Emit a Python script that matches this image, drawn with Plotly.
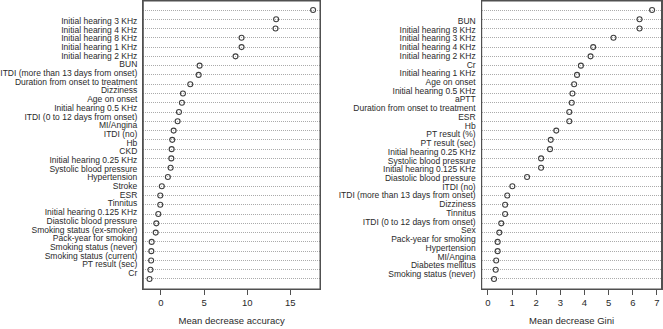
import plotly.graph_objects as go

acc_labels = [
    "Initial hearing 3 KHz", "Initial hearing 4 KHz", "Initial hearing 8 KHz",
    "Initial hearing 1 KHz", "Initial hearing 2 KHz", "BUN",
    "ITDI (more than 13 days from onset)", "Duration from onset to treatment",
    "Dizziness", "Age on onset", "Initial hearing 0.5 KHz",
    "ITDI (0 to 12 days from onset)", "MI/Angina", "ITDI (no)", "Hb", "CKD",
    "Initial hearing 0.25 KHz", "Systolic blood pressure", "Hypertension",
    "Stroke", "ESR", "Tinnitus", "Initial hearing 0.125 KHz",
    "Diastolic blood pressure", "Smoking status (ex-smoker)",
    "Pack-year for smoking", "Smoking status (never)",
    "Smoking status (current)", "PT result (sec)", "Cr",
]
acc_values = [17.65, 13.36, 13.29, 9.35, 9.35, 8.65, 4.48, 4.37, 3.40, 2.55,
              2.43, 2.09, 1.93, 1.47, 1.31, 1.24, 1.20, 1.12, 0.80, 0.10,
              -0.08, -0.08, -0.31, -0.54, -0.61, -1.08, -1.12, -1.14, -1.22, -1.33]

gini_labels = [
    "BUN", "Initial hearing 8 KHz", "Initial hearing 3 KHz",
    "Initial hearing 4 KHz", "Initial hearing 2 KHz", "Cr",
    "Initial hearing 1 KHz", "Age on onset", "Initial hearing 0.5 KHz",
    "aPTT", "Duration from onset to treatment", "ESR", "Hb",
    "PT result (%)", "PT result (sec)", "Initial hearing 0.25 KHz",
    "Systolic blood pressure", "Initial hearing 0.125 KHz",
    "Diastolic blood pressure", "ITDI (no)",
    "ITDI (more than 13 days from onset)", "Dizziness", "Tinnitus",
    "ITDI (0 to 12 days from onset)", "Sex", "Pack-year for smoking",
    "Hypertension", "MI/Angina", "Diabetes mellitus", "Smoking status (never)",
]
gini_values = [6.80, 6.28, 6.28, 5.20, 4.36, 4.25, 3.85, 3.69, 3.57, 3.50,
               3.47, 3.37, 3.37, 2.83, 2.60, 2.57, 2.20, 2.20, 1.62, 1.01,
               0.80, 0.71, 0.71, 0.55, 0.47, 0.40, 0.40, 0.34, 0.32, 0.25]

acc_ticks = [0, 5, 10, 15]
gini_ticks = [0, 1, 2, 3, 4, 5, 6, 7]

FONT = "Liberation Sans, Arial, sans-serif"
TXT = "#2a2a2a"
FRAME = "#505050"
GRID = "#ababab"

fig = go.Figure()

marker = dict(symbol="circle-open", size=5, color="#404040", line=dict(width=1.1, color="#404040"))

rows_acc = list(range(len(acc_values)))
rows_gini = list(range(len(gini_values)))

fig.add_trace(go.Scatter(x=acc_values, y=rows_acc, mode="markers", marker=marker,
                         xaxis="x", yaxis="y", hoverinfo="skip", showlegend=False))
fig.add_trace(go.Scatter(x=acc_values, y=rows_acc, mode="markers", marker=dict(opacity=0),
                         xaxis="x", yaxis="y2", hoverinfo="skip", showlegend=False))
fig.add_trace(go.Scatter(x=gini_values, y=rows_gini, mode="markers", marker=marker,
                         xaxis="x2", yaxis="y3", hoverinfo="skip", showlegend=False))
fig.add_trace(go.Scatter(x=gini_values, y=rows_gini, mode="markers", marker=dict(opacity=0),
                         xaxis="x2", yaxis="y4", hoverinfo="skip", showlegend=False))

ydom = [1 - 289 / 329, 1 - 1 / 329]

def xax(domain, rng, ticks, title, anchor):
    return dict(domain=domain, range=rng, anchor=anchor, showgrid=False, zeroline=False,
                automargin=False,
                showline=True, mirror=True, linecolor=FRAME, linewidth=1,
                ticks="outside", ticklen=5, tickcolor=FRAME, tickwidth=1,
                tickmode="array", tickvals=ticks, ticktext=[str(t) for t in ticks],
                tickfont=dict(family=FONT, size=9.5, color=TXT),
                title=dict(text=title, font=dict(family=FONT, size=9.5, color=TXT), standoff=9))

def ypts(rows, anchor):
    return dict(domain=ydom, range=[30.08, -0.97], anchor=anchor, showline=True, mirror=True,
                automargin=False,
                linecolor=FRAME, linewidth=1, zeroline=False, showticklabels=False,
                ticks="", tickmode="array", tickvals=rows,
                showgrid=True, gridcolor=GRID, griddash="1px,1px", gridwidth=1)

def ylab(rows, labels, over, anchor, rng):
    return dict(domain=ydom, range=rng, overlaying=over, anchor=anchor, side="left",
                automargin=False,
                showline=False, zeroline=False, showgrid=False, ticks="",
                tickmode="array", tickvals=rows, ticktext=labels, ticklabelstandoff=5,
                tickfont=dict(family=FONT, size=8.5, color=TXT))

frame = [
    dict(type="rect", xref="x domain", yref="y domain", x0=0, x1=1, y0=0, y1=1,
         line=dict(color=FRAME, width=1), fillcolor="rgba(0,0,0,0)", layer="above"),
    dict(type="rect", xref="x2 domain", yref="y3 domain", x0=0, x1=1, y0=0, y1=1,
         line=dict(color=FRAME, width=1), fillcolor="rgba(0,0,0,0)", layer="above"),
]

fig.update_layout(
    template="none",
    width=663, height=329,
    margin=dict(l=0, r=0, t=0, b=0, autoexpand=False),
    paper_bgcolor="white", plot_bgcolor="white",
    hovermode=False,
    shapes=frame,
    xaxis=xax([143.3 / 663, 320 / 663], [-2.05, 18.45], acc_ticks, "Mean decrease accuracy", "y"),
    xaxis2=xax([481.7 / 663, 661.5 / 663], [-0.26, 7.19], gini_ticks, "Mean decrease Gini", "y3"),
    yaxis=ypts(rows_acc, "x"),
    yaxis2=ylab(rows_acc, acc_labels, "y", "x", [30.84, -2.30]),
    yaxis3=ypts(rows_gini, "x2"),
    yaxis4=ylab(rows_gini, gini_labels, "y3", "x2", [30.72, -2.29]),
)

fig.write_html("out.html", config={"displayModeBar": False, "staticPlot": True},
               post_script="document.body.style.margin='0';")
